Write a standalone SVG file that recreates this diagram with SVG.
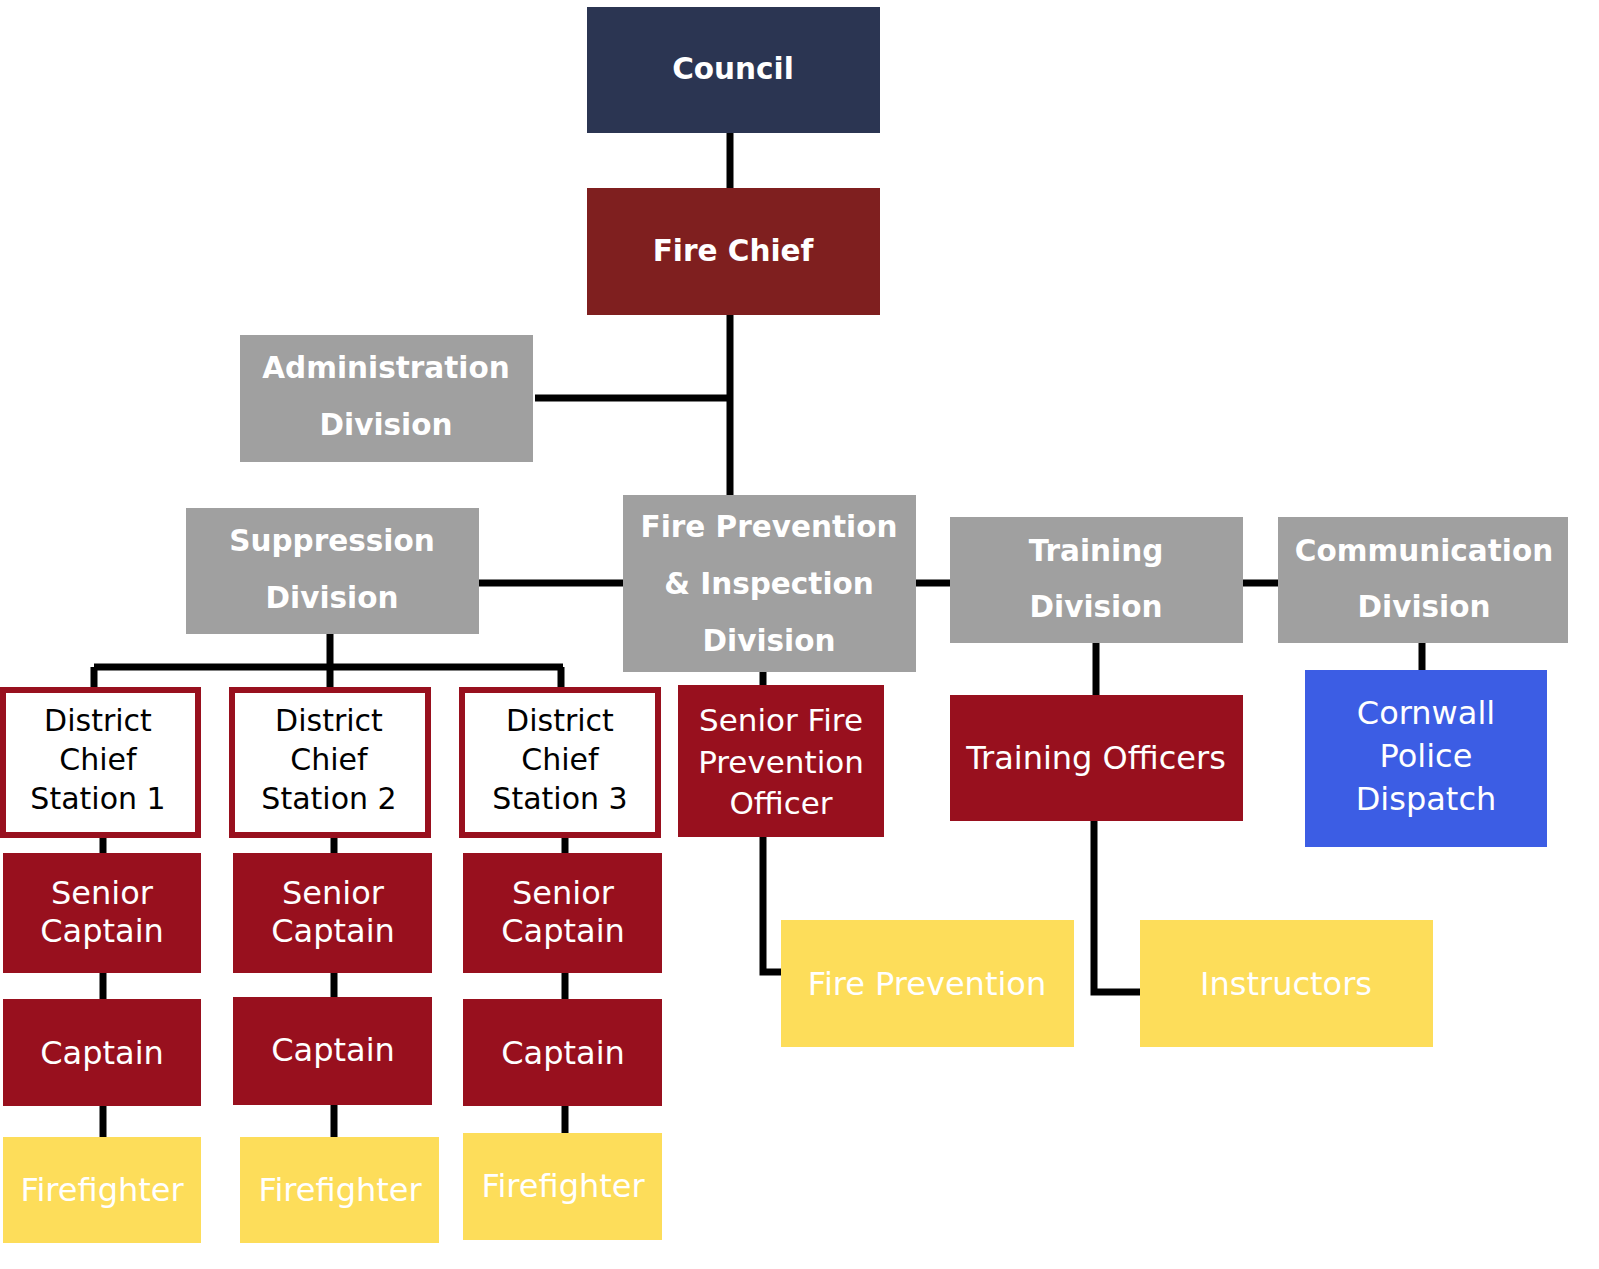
<svg xmlns="http://www.w3.org/2000/svg" width="1599" height="1269" viewBox="0 0 1599 1269">
<style>
.b{font-family:"DejaVu Sans","Liberation Sans",sans-serif;font-weight:bold;font-size:29.5px;fill:#fff;text-anchor:middle}
.r{font-family:"DejaVu Sans","Liberation Sans",sans-serif;font-size:32px;fill:#fff;text-anchor:middle}
.d{font-family:"DejaVu Sans","Liberation Sans",sans-serif;font-size:30px;fill:#000;text-anchor:middle}
.s{font-size:31px}
.gray{fill:#a0a0a0}
.red{fill:#98101e}
.yel{fill:#fddd5a}
.dc{fill:#fff;stroke:#98101e;stroke-width:6}
.c{stroke:#000;stroke-width:7;fill:none}
</style>
<rect width="1599" height="1269" fill="#fff"/>
<g id="connectors">
<path class="c" d="M730 133V188M730 315V495M535 398H733"/>
<path class="c" d="M479 583H623M916 583H950M1243 583H1278"/>
<path class="c" d="M330 634V667M94 667H563M94 667V687M330 667V687M561 667V687"/>
<path class="c" d="M103 838V853M334 838V853M565 838V853"/>
<path class="c" d="M103 973V999M334 973V997M565 973V999"/>
<path class="c" d="M103 1106V1137M334 1105V1137M565 1106V1133"/>
<path class="c" d="M763 672V685M763 837V972H781"/>
<path class="c" d="M1096 643V695M1094 821V992H1140"/>
<path class="c" d="M1422 643V670"/>
</g>
<g id="council"><rect x="587" y="7" width="293" height="126" fill="#2b3552"/><text class="b" x="733" y="79">Council</text></g>
<g id="firechief"><rect x="587" y="188" width="293" height="127" fill="#7f1f1f"/><text class="b" x="733" y="261">Fire Chief</text></g>
<g id="admin"><rect class="gray" x="240" y="335" width="293" height="127"/><text class="b" x="386" y="378">Administration</text><text class="b" x="386" y="435">Division</text></g>
<g id="suppression"><rect class="gray" x="186" y="508" width="293" height="126"/><text class="b" x="332" y="551">Suppression</text><text class="b" x="332" y="608">Division</text></g>
<g id="fpi"><rect class="gray" x="623" y="495" width="293" height="177"/><text class="b" x="769" y="537">Fire Prevention</text><text class="b" x="769" y="594">&amp; Inspection</text><text class="b" x="769" y="651">Division</text></g>
<g id="training"><rect class="gray" x="950" y="517" width="293" height="126"/><text class="b" x="1096" y="561">Training</text><text class="b" x="1096" y="617">Division</text></g>
<g id="communication"><rect class="gray" x="1278" y="517" width="290" height="126"/><text class="b" x="1424" y="561">Communication</text><text class="b" x="1424" y="617">Division</text></g>
<g id="dc1"><rect class="dc" x="3" y="690" width="195" height="145"/><text class="d" x="98" y="731">District</text><text class="d" x="98" y="770">Chief</text><text class="d" x="98" y="809">Station 1</text></g>
<g id="dc2"><rect class="dc" x="232" y="690" width="196" height="145"/><text class="d" x="329" y="731">District</text><text class="d" x="329" y="770">Chief</text><text class="d" x="329" y="809">Station 2</text></g>
<g id="dc3"><rect class="dc" x="462" y="690" width="196" height="145"/><text class="d" x="560" y="731">District</text><text class="d" x="560" y="770">Chief</text><text class="d" x="560" y="809">Station 3</text></g>
<g id="sc1"><rect class="red" x="3" y="853" width="198" height="120"/><text class="r" x="102" y="904">Senior</text><text class="r" x="102" y="942">Captain</text></g>
<g id="sc2"><rect class="red" x="233" y="853" width="199" height="120"/><text class="r" x="333" y="904">Senior</text><text class="r" x="333" y="942">Captain</text></g>
<g id="sc3"><rect class="red" x="463" y="853" width="199" height="120"/><text class="r" x="563" y="904">Senior</text><text class="r" x="563" y="942">Captain</text></g>
<g id="cap1"><rect class="red" x="3" y="999" width="198" height="107"/><text class="r" x="102" y="1064">Captain</text></g>
<g id="cap2"><rect class="red" x="233" y="997" width="199" height="108"/><text class="r" x="333" y="1061">Captain</text></g>
<g id="cap3"><rect class="red" x="463" y="999" width="199" height="107"/><text class="r" x="563" y="1064">Captain</text></g>
<g id="ff1"><rect class="yel" x="3" y="1137" width="198" height="106"/><text class="r" x="102" y="1201">Firefighter</text></g>
<g id="ff2"><rect class="yel" x="240" y="1137" width="199" height="106"/><text class="r" x="340" y="1201">Firefighter</text></g>
<g id="ff3"><rect class="yel" x="463" y="1133" width="199" height="107"/><text class="r" x="563" y="1197">Firefighter</text></g>
<g id="sfpo"><rect class="red" x="678" y="685" width="206" height="152"/><text class="r s" x="781" y="731">Senior Fire</text><text class="r s" x="781" y="773">Prevention</text><text class="r s" x="781" y="814">Officer</text></g>
<g id="trainingofficers"><rect class="red" x="950" y="695" width="293" height="126"/><text class="r" x="1096" y="769">Training Officers</text></g>
<g id="cornwall"><rect x="1305" y="670" width="242" height="177" fill="#3c5de4"/><text class="r" x="1426" y="724">Cornwall</text><text class="r" x="1426" y="767">Police</text><text class="r" x="1426" y="810">Dispatch</text></g>
<g id="fireprevention"><rect class="yel" x="781" y="920" width="293" height="127"/><text class="r" x="927" y="995">Fire Prevention</text></g>
<g id="instructors"><rect class="yel" x="1140" y="920" width="293" height="127"/><text class="r" x="1286" y="995">Instructors</text></g>
</svg>
